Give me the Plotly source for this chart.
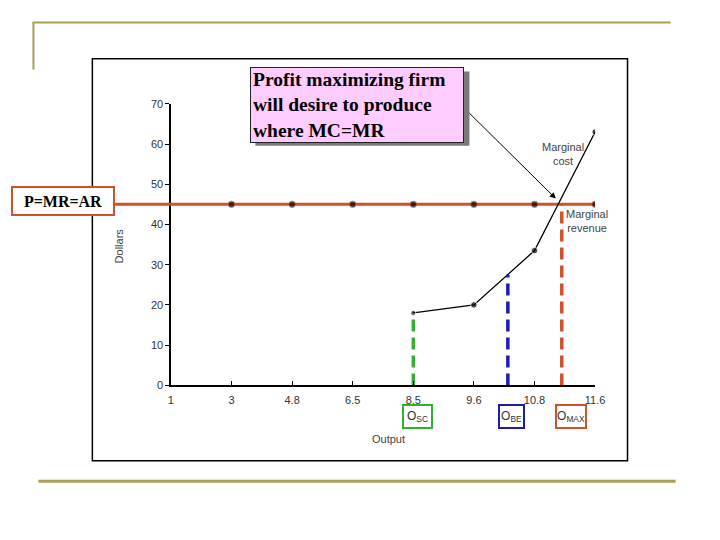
import plotly.graph_objects as go

# ---- data ----
output_labels = ["1", "3", "4.8", "6.5", "8.5", "9.6", "10.8", "11.6"]
mr_values = [45, 45, 45, 45, 45, 45, 45, 45]
mc_categories = ["8.5", "9.6", "10.8", "11.6"]
mc_values = [18, 20, 33.5, 63]
y_ticks = [0, 10, 20, 30, 40, 50, 60, 70]
mark_names = ["O<sub>SC</sub>", "O<sub>BE</sub>", "O<sub>MAX</sub>"]
mark_positions = [4, 5.56, 6.45]       # position on the output axis (category index units)
mark_heights = [18, 27.5, 45]
mark_colors = ["#33B033", "#1C1CB4", "#D2502A"]

W, H = 720, 540
ORANGE = "#D2502A"
GOLD = "#A89F55"
SANS = "Liberation Sans, Arial, sans-serif"
SERIF = "Liberation Serif, Times New Roman, serif"

def px(x):
    return x / W

def py(y):
    return (H - y) / H

xi = list(range(len(output_labels)))
mc_x = [output_labels.index(c) for c in mc_categories]

fig = go.Figure()

# Marginal revenue line
fig.add_trace(go.Scatter(
    x=xi, y=mr_values, mode="lines+markers",
    line=dict(color=ORANGE, width=3),
    marker=dict(color="black", size=[0] + [6.5] * (len(xi) - 1)),
    showlegend=False, hoverinfo="skip"))

# Marginal cost line
fig.add_trace(go.Scatter(
    x=mc_x, y=mc_values, mode="lines+markers",
    line=dict(color="black", width=1.3),
    marker=dict(color="black", size=[5, 6.5, 6.5, 6.5]),
    showlegend=False, hoverinfo="skip"))

# Vertical dashed output markers
for p, h, c in zip(mark_positions, mark_heights, mark_colors):
    fig.add_trace(go.Scatter(
        x=[p, p], y=[0, h], mode="lines",
        line=dict(color=c, width=3.5, dash="12px,6px"),
        showlegend=False, hoverinfo="skip"))

shapes = [
    # outer chart frame
    dict(type="rect", xref="paper", yref="paper", x0=px(91), x1=px(636), y0=py(465), y1=py(54),
         line=dict(color="black", width=1.5), layer="below"),
    # gold slide decorations
    dict(type="line", xref="paper", yref="paper", x0=px(30), x1=px(680), y0=py(17), y1=py(17),
         line=dict(color=GOLD, width=2)),
    dict(type="line", xref="paper", yref="paper", x0=px(31), x1=px(31), y0=py(17), y1=py(65),
         line=dict(color=GOLD, width=2)),
    dict(type="line", xref="paper", yref="paper", x0=px(36), x1=px(685), y0=py(486), y1=py(486),
         line=dict(color=GOLD, width=3)),
    # MR line extension to the P=MR=AR box
    dict(type="line", xref="paper", yref="y", x0=px(114), x1=px(171), y0=mr_values[0], y1=mr_values[0],
         line=dict(color=ORANGE, width=3)),
    # callout shadow
    dict(type="rect", xref="paper", yref="paper", x0=px(257), x1=px(475), y0=py(143), y1=py(67),
         line=dict(width=0), fillcolor="#7a7a7a"),
]

def label(x, y, text, **kw):
    d = dict(xref="paper", yref="paper", x=px(x), y=py(y), text=text, showarrow=False,
             xanchor="center", yanchor="middle")
    d.update(kw)
    return d

annotations = [
    # callout box
    dict(xref="paper", yref="paper", x=px(252), y=py(62), xanchor="left", yanchor="top",
         text="<b>Profit maximizing firm<br>will desire to produce<br>where MC=MR</b>",
         showarrow=False, align="left", bgcolor="#FFCCFF", bordercolor="#222", borderwidth=1,
         width=208, height=70, borderpad=2,
         font=dict(family=SERIF, size=19.5, color="black")),
    # arrow
    dict(xref="paper", yref="paper", x=px(563), y=py(197), ax=-88, ay=-87, text="",
         showarrow=True, arrowhead=2, arrowsize=1.2, arrowwidth=1, arrowcolor="black"),
    # P=MR=AR box
    label(61, 199, "<b>P=MR=AR</b>", bgcolor="white", bordercolor=ORANGE, borderwidth=2,
          width=100, height=26, borderpad=0, font=dict(family=SERIF, size=16, color="black")),
    # curve labels
    label(570, 151, "Marginal<br>cost", font=dict(family=SANS, size=11, color="#444")),
    label(595, 220, "Marginal<br>revenue", font=dict(family=SANS, size=11, color="#444")),
    # axis titles
    label(118, 245, "Dollars", textangle=-90, font=dict(family=SANS, size=11, color="#444")),
    label(393, 443, "Output", font=dict(family=SANS, size=11, color="#444")),
]

box_centers = [422.5, 517.5, 578]
box_widths = [27, 23, 28]
for name, c, bx, bw in zip(mark_names, mark_colors, box_centers, box_widths):
    annotations.append(label(bx, 419.5, name, bordercolor=c, borderwidth=2, width=bw, height=21,
                             borderpad=0, bgcolor="white",
                             font=dict(family=SANS, size=12, color="#333")))

fig.update_layout(
    width=W, height=H,
    margin=dict(l=0, r=0, t=0, b=0),
    paper_bgcolor="white", plot_bgcolor="white",
    shapes=shapes, annotations=annotations,
    xaxis=dict(domain=[px(171), px(603)], range=[0, 7], tickmode="array", tickvals=xi,
               ticktext=output_labels, showgrid=False, zeroline=False, showline=True,
               linecolor="black", linewidth=1.5, ticks="inside", ticklen=4, tickcolor="black",
               ticklabelstandoff=4,
               tickfont=dict(family=SANS, size=11, color="#333"),
               fixedrange=True),
    yaxis=dict(domain=[py(388), py(100)], range=[0, 70], tickmode="array", tickvals=y_ticks,
               showgrid=False, zeroline=False, showline=True, linecolor="black", linewidth=1.5,
               ticks="outside", ticklen=4, tickcolor="black",
               tickfont=dict(family=SANS, size=11, color="#333"),
               fixedrange=True),
)

fig.write_html("out.html", config={"displayModeBar": False, "staticPlot": True},
               post_script="document.body.style.margin='0';document.body.style.overflow='hidden';")
